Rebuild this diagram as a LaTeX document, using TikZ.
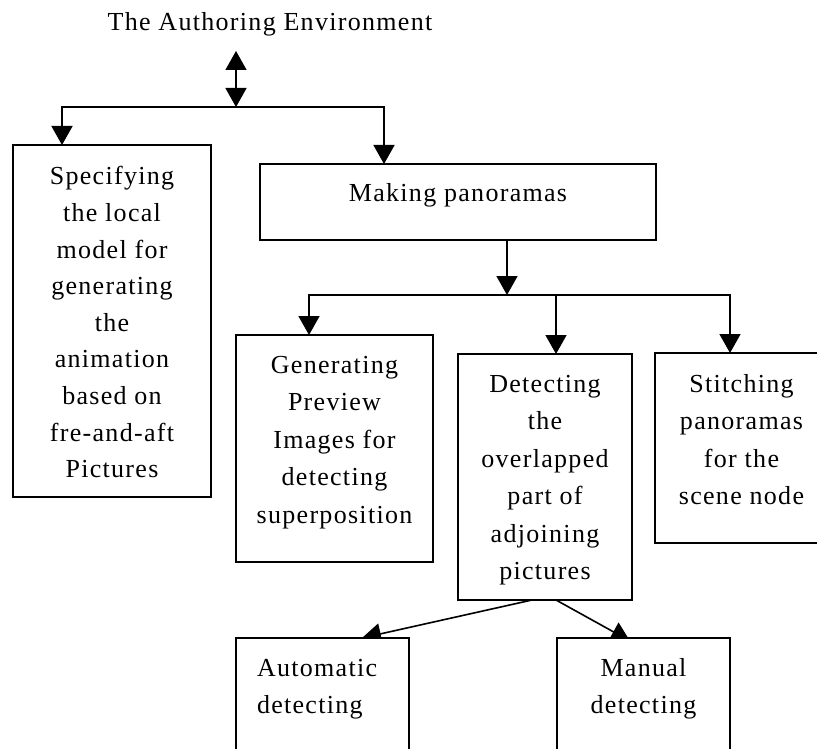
\documentclass[tikz,border=0pt]{standalone}
\usepackage{fontspec}
\setmainfont{Liberation Serif}[LetterSpace=5]
\usetikzlibrary{arrows.meta,backgrounds}

% box contents: width, height, first baseline depth, alignment, lines
\newcommand\boxtext[5]{\parbox[t][#2][t]{#1}{#4\rule{0pt}{#3}#5}}

\tikzset{
  box/.style={draw, line width=1.6pt, fill=white, inner sep=0pt, outer sep=0pt,
    anchor=north west, font=\fontsize{26}{37.5}\selectfont},
  arr/.style={line width=1.6pt, -{Triangle[length=19pt,width=21pt]}},
  dblarr/.style={line width=1.6pt,
    {Triangle[length=19pt,width=21pt]}-{Triangle[length=19pt,width=21pt]}},
  plain/.style={line width=1.6pt},
}

\begin{document}
\begin{tikzpicture}[x=1pt, y=-1pt]
  \useasboundingbox (0,0) rectangle (817,749);
  \clip (0,0) rectangle (817,749);

  % heading
  \node[font=\fontsize{26}{31}\selectfont, anchor=base, inner sep=0pt]
    (env) at (270,31) {The Authoring Environment};

  % boxes
  \node[box] (spec) at (13,145)
    {\boxtext{198pt}{352pt}{40pt}{\centering\fontsize{26}{36.6}\selectfont}
      {Specifying\\the local\\model for\\generating\\the\\animation\\based on\\fre-and-aft\\Pictures}};
  \node[box] (mak) at (260,164)
    {\boxtext{396pt}{76pt}{37pt}{\centering}{Making panoramas}};
  \node[box] (gen) at (236,335)
    {\boxtext{197pt}{227pt}{38pt}{\centering}
      {Generating\\Preview\\Images for\\detecting\\superposition}};
  \node[box] (det) at (458,354)
    {\boxtext{174pt}{246pt}{38pt}{\centering}
      {Detecting\\the\\overlapped\\part of\\adjoining\\pictures}};
  \node[box] (sti) at (655,353)
    {\boxtext{173pt}{190pt}{39pt}{\centering}
      {Stitching\\panoramas\\for the\\scene node}};
  \node[box] (aut) at (236,638)
    {\boxtext{173pt}{140pt}{38pt}{\raggedright\leftskip=21pt}
      {Automatic\\detecting}};
  \node[box] (man) at (557,638)
    {\boxtext{173pt}{140pt}{38pt}{\centering}
      {Manual\\detecting}};

  % junctions
  \coordinate (top) at (236,51);
  \coordinate (j1) at (236,107);
  \coordinate (j2) at (507,295);

  % connectors
  \begin{pgfonlayer}{background}
    \draw[dblarr] (top) -- (j1);
    \draw[arr] (j1) -| ([xshift=49pt]spec.north west);
    \draw[arr] (j1) -| ([xshift=124pt]mak.north west);
    \draw[arr] ([xshift=247pt]mak.south west) -- (j2);
    \draw[arr] (j2) -| ([xshift=73pt]gen.north west);
    \draw[arr] (j2) -| ([xshift=98pt]det.north west);
    \draw[arr] (j2) -| ([xshift=75pt]sti.north west);
    \draw[arr] ([xshift=74pt]det.south west) -- ([xshift=126pt]aut.north west);
    \draw[arr] ([xshift=98pt]det.south west) -- ([xshift=73pt,yshift=-3pt]man.north west);
  \end{pgfonlayer}
\end{tikzpicture}
\end{document}
